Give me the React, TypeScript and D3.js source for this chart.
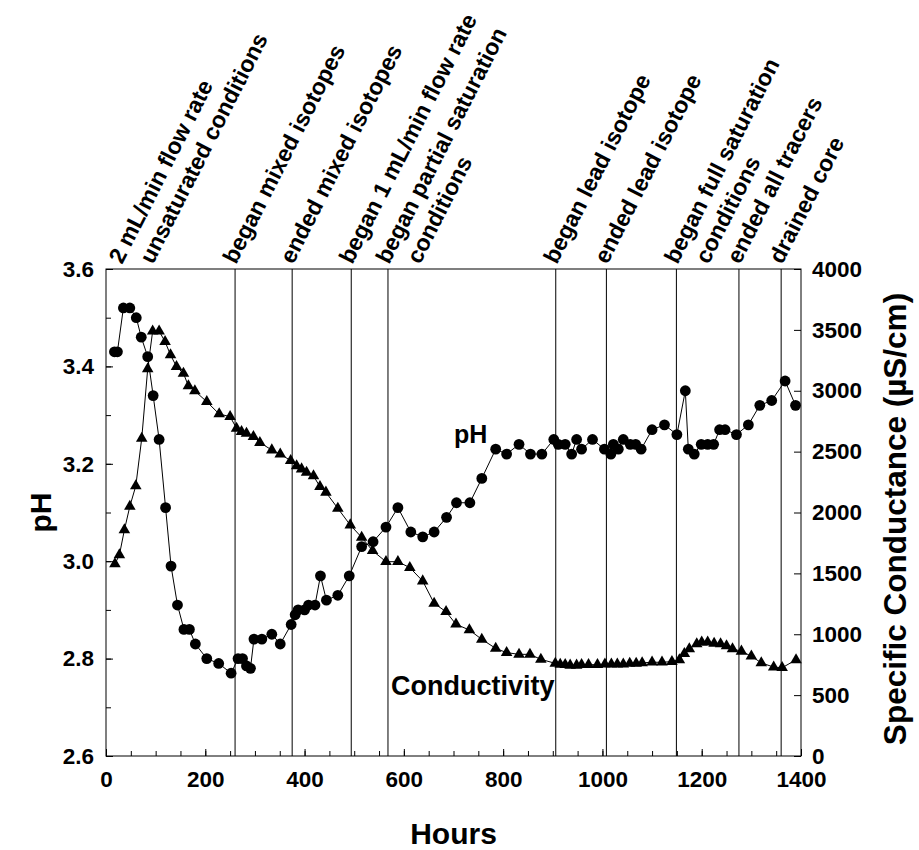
import { useEffect, useRef } from "react";
import * as d3 from "d3";

// pH readings (hours, pH)
const phHours = [17, 23, 35, 48, 61, 71, 84, 95, 107, 120, 131, 144, 157, 168, 180, 203, 227, 252, 266, 275, 283, 291, 298, 314, 334, 351, 373, 381, 387, 400, 408, 421, 432, 444, 467, 490, 515, 538, 564, 588, 614, 638, 661, 686, 706, 733, 757, 785, 807, 832, 855, 878, 902, 911, 925, 938, 948, 958, 980, 1004, 1017, 1022, 1032, 1042, 1056, 1067, 1078, 1100, 1125, 1150, 1167, 1173, 1185, 1199, 1212, 1224, 1236, 1247, 1270, 1294, 1317, 1341, 1368, 1389];
const phValues = [3.43, 3.43, 3.52, 3.52, 3.5, 3.46, 3.42, 3.34, 3.25, 3.11, 2.99, 2.91, 2.86, 2.86, 2.83, 2.8, 2.79, 2.77, 2.8, 2.8, 2.785, 2.78, 2.84, 2.84, 2.85, 2.83, 2.87, 2.89, 2.9, 2.9, 2.91, 2.91, 2.97, 2.92, 2.93, 2.97, 3.03, 3.04, 3.07, 3.11, 3.06, 3.05, 3.06, 3.09, 3.12, 3.12, 3.17, 3.23, 3.22, 3.24, 3.22, 3.22, 3.25, 3.24, 3.24, 3.22, 3.25, 3.23, 3.25, 3.23, 3.22, 3.24, 3.23, 3.25, 3.24, 3.24, 3.23, 3.27, 3.28, 3.26, 3.35, 3.23, 3.22, 3.24, 3.24, 3.24, 3.27, 3.27, 3.26, 3.28, 3.32, 3.33, 3.37, 3.32];

// specific conductance readings (hours, uS/cm)
const condHours = [18, 27, 37, 48, 60, 72, 84, 94, 107, 119, 130, 142, 156, 166, 179, 203, 228, 250, 263, 273, 283, 297, 310, 334, 351, 372, 384, 394, 404, 418, 431, 443, 467, 492, 515, 537, 564, 588, 612, 638, 661, 685, 705, 732, 757, 785, 807, 832, 854, 876, 905, 915, 925, 935, 948, 958, 972, 990, 1005, 1018, 1030, 1042, 1055, 1068, 1080, 1100, 1120, 1140, 1155, 1165, 1175, 1190, 1200, 1212, 1225, 1238, 1250, 1262, 1280, 1300, 1320, 1345, 1362, 1390];
const condValues = [1577, 1651, 1856, 2050, 2218, 2609, 3179, 3490, 3490, 3403, 3294, 3198, 3143, 3039, 2998, 2910, 2809, 2787, 2691, 2664, 2650, 2623, 2574, 2513, 2480, 2426, 2382, 2357, 2330, 2300, 2212, 2166, 2034, 1897, 1796, 1686, 1596, 1596, 1547, 1437, 1254, 1185, 1082, 1035, 958, 884, 849, 835, 835, 794, 761, 753, 750, 745, 745, 750, 750, 750, 755, 755, 755, 755, 760, 760, 765, 770, 770, 775, 790, 840, 880, 920, 935, 935, 925, 920, 905, 880, 860, 820, 765, 730, 725, 790];

// experiment events (hours) and their labels
const eventHours = [260, 375, 494, 568, 906, 1008, 1149, 1275, 1360];
const labelHours = [30, 260, 375, 494, 568, 906, 1008, 1149, 1275, 1360];
const labelLines = [
  ["2 mL/min flow rate", "unsaturated conditions"],
  ["began mixed isotopes"],
  ["ended mixed isotopes"],
  ["began 1 mL/min flow rate"],
  ["began partial saturation", "conditions"],
  ["began lead isotope"],
  ["ended lead isotope"],
  ["began full saturation", "conditions"],
  ["ended all tracers"],
  ["drained core"],
];

const xTicks = [0, 200, 400, 600, 800, 1000, 1200, 1400];
const phTicks = [2.6, 2.8, 3.0, 3.2, 3.4, 3.6];
const condTicks = [0, 500, 1000, 1500, 2000, 2500, 3000, 3500, 4000];

const FONT = "'Liberation Sans', Arial, sans-serif";

export default function App() {
  const ref = useRef<SVGSVGElement | null>(null);

  useEffect(() => {
    const W = 919;
    const H = 850;
    const left = 106;
    const right = 801;
    const top = 269;
    const bottom = 756;

    const svg = d3.select(ref.current);
    svg.selectAll("*").remove();
    svg.attr("width", W).attr("height", H);

    const x = d3.scaleLinear().domain([0, 1400]).range([left, right]);
    const yPh = d3.scaleLinear().domain([2.6, 3.6]).range([bottom, top]);
    const yCond = d3.scaleLinear().domain([0, 4000]).range([bottom, top]);

    // minor ticks
    svg.append("g")
      .attr("transform", `translate(0,${bottom})`)
      .call(d3.axisBottom(x).tickValues(d3.range(50, 1400, 50)).tickSize(-5).tickFormat(() => ""))
      .call((g) => g.select(".domain").remove());
    svg.append("g")
      .attr("transform", `translate(${left},0)`)
      .call(d3.axisLeft(yPh).tickValues(d3.range(2.7, 3.6, 0.1)).tickSize(-5).tickFormat(() => ""))
      .call((g) => g.select(".domain").remove());

    // major ticks + labels
    const xAxis = svg.append("g")
      .attr("transform", `translate(0,${bottom})`)
      .call(d3.axisBottom(x).tickValues(xTicks).tickSize(-7).tickPadding(15).tickFormat(d3.format("d")));
    const yAxisL = svg.append("g")
      .attr("transform", `translate(${left},0)`)
      .call(d3.axisLeft(yPh).tickValues(phTicks).tickSize(-7).tickPadding(12).tickFormat(d3.format(".1f")));
    const yAxisR = svg.append("g")
      .attr("transform", `translate(${right},0)`)
      .call(d3.axisRight(yCond).tickValues(condTicks).tickSize(-7).tickPadding(11).tickFormat(d3.format("d")));
    [xAxis, yAxisL, yAxisR].forEach((g) => {
      g.select(".domain").remove();
      g.selectAll("text")
        .attr("font-family", FONT)
        .attr("font-weight", "bold")
        .attr("font-size", 22.5)
        .attr("fill", "#000");
    });
    svg.selectAll(".tick line").attr("stroke", "#000");

    // frame
    svg.append("rect")
      .attr("x", left).attr("y", top)
      .attr("width", right - left).attr("height", bottom - top)
      .attr("fill", "none").attr("stroke", "#000").attr("stroke-width", 1);

    // event lines
    svg.selectAll(".evt")
      .data(eventHours)
      .enter()
      .append("line")
      .attr("x1", (d) => x(d)).attr("x2", (d) => x(d))
      .attr("y1", top).attr("y2", bottom)
      .attr("stroke", "#000").attr("stroke-width", 1);

    // event labels
    labelLines.forEach((lines, i) => {
      lines.forEach((txt, j) => {
        svg.append("text")
          .attr("transform", `translate(${x(labelHours[i]) + 1 + j * 31},265) rotate(-63)`)
          .attr("font-family", FONT)
          .attr("font-weight", "bold")
          .attr("font-size", 23)
          .text(txt);
      });
    });

    // conductivity series
    const condData = condHours.map((h, i) => [h, condValues[i]]);
    svg.append("path")
      .datum(condData)
      .attr("fill", "none").attr("stroke", "#000").attr("stroke-width", 1)
      .attr("d", d3.line<number[]>().x((d) => x(d[0])).y((d) => yCond(d[1])));
    const tri = d3.symbol().type(d3.symbolTriangle).size(58);
    svg.selectAll(".tri")
      .data(condData)
      .enter()
      .append("path")
      .attr("d", tri)
      .attr("transform", (d) => `translate(${x(d[0])},${yCond(d[1])})`)
      .attr("fill", "#000");

    // pH series
    const phData = phHours.map((h, i) => [h, phValues[i]]);
    svg.append("path")
      .datum(phData)
      .attr("fill", "none").attr("stroke", "#000").attr("stroke-width", 1)
      .attr("d", d3.line<number[]>().x((d) => x(d[0])).y((d) => yPh(d[1])));
    svg.selectAll(".dot")
      .data(phData)
      .enter()
      .append("circle")
      .attr("cx", (d) => x(d[0]))
      .attr("cy", (d) => yPh(d[1]))
      .attr("r", 5.4)
      .attr("fill", "#000");

    // series labels
    svg.append("text").attr("x", 454).attr("y", 443)
      .attr("font-family", FONT).attr("font-weight", "bold").attr("font-size", 25).text("pH");
    svg.append("text").attr("x", 391).attr("y", 695)
      .attr("font-family", FONT).attr("font-weight", "bold").attr("font-size", 27).text("Conductivity");

    // axis titles
    svg.append("text").attr("x", (left + right) / 2).attr("y", 844)
      .attr("text-anchor", "middle")
      .attr("font-family", FONT).attr("font-weight", "bold").attr("font-size", 30).text("Hours");
    svg.append("text")
      .attr("transform", `translate(51,${(top + bottom) / 2}) rotate(-90)`)
      .attr("text-anchor", "middle")
      .attr("font-family", FONT).attr("font-weight", "bold").attr("font-size", 30).text("pH");
    svg.append("text")
      .attr("transform", `translate(906,519) rotate(-90)`)
      .attr("text-anchor", "middle")
      .attr("font-family", FONT).attr("font-weight", "bold").attr("font-size", 31.5).text("Specific Conductance (µS/cm)");
  }, []);

  return <svg ref={ref} style={{ position: "absolute", left: 0, top: 0, background: "#fff" }} />;
}
